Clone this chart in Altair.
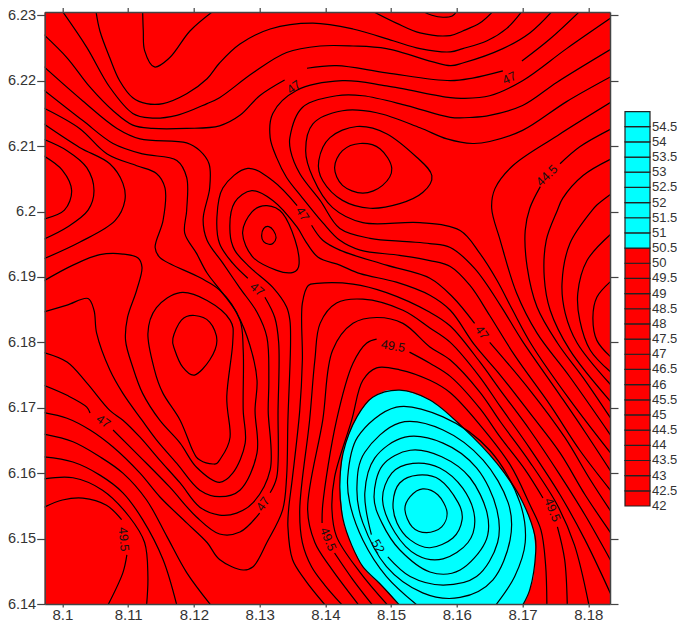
import altair as alt
import pandas as pd

X_TICKS = [8.1, 8.11, 8.12, 8.13, 8.14, 8.15, 8.16, 8.17, 8.18]
Y_TICKS = [6.14, 6.15, 6.16, 6.17, 6.18, 6.19, 6.2, 6.21, 6.22, 6.23]
X_DOMAIN = [8.0973, 8.1833]
Y_DOMAIN = [6.14, 6.2305]

# open contour lines: (x, y)
c_t0 = [(8.1548,6.2306),(8.1562,6.2300),(8.1579,6.2297),(8.1593,6.2299),(8.1600,6.2306)]
c_t2 = [(8.1472,6.2306),(8.1508,6.2288),(8.1544,6.2273),(8.1590,6.2269),(8.1609,6.2276),(8.1635,6.2288),(8.1655,6.2306)]
c_t1 = [(8.1122,6.2306),(8.1123,6.2276),(8.1125,6.2246),(8.1140,6.2221),(8.1163,6.2235),(8.1194,6.2276),(8.1229,6.2306)]
c_a = [(8.1051,6.2306),(8.1057,6.2276),(8.1072,6.2235),(8.1087,6.2200),(8.1107,6.2174),(8.1128,6.2165),(8.1153,6.2165),(8.1189,6.2180),(8.1220,6.2203),(8.1239,6.2227),(8.1270,6.2256),(8.1316,6.2279),(8.1381,6.2288),(8.1442,6.2279),(8.1503,6.2261),(8.1544,6.2249),(8.1590,6.2244),(8.1609,6.2249),(8.1646,6.2261),(8.1676,6.2280),(8.1699,6.2306)]
c_b = [(8.1000,6.2306),(8.1037,6.2251),(8.1072,6.2190),(8.1107,6.2150),(8.1133,6.2143),(8.1174,6.2147),(8.1220,6.2165),(8.1239,6.2174),(8.1290,6.2212),(8.1341,6.2243),(8.1392,6.2253),(8.1442,6.2253),(8.1493,6.2249),(8.1590,6.2223),(8.1609,6.2227),(8.1670,6.2249),(8.1711,6.2273),(8.1745,6.2306)]
c_47a = [(8.0970,6.2272),(8.1007,6.2235),(8.1042,6.2190),(8.1077,6.2154),(8.1107,6.2132),(8.1137,6.2127),(8.1189,6.2127),(8.1239,6.2131),(8.1270,6.2147),(8.1300,6.2177),(8.1338,6.2201)]
c_47b = [(8.1372,6.2219),(8.1417,6.2223),(8.1493,6.2212),(8.1590,6.2200),(8.1624,6.2204),(8.1670,6.2215)]
c_47c = [(8.1699,6.2230),(8.1742,6.2264),(8.1787,6.2306)]
c_465l = [(8.0970,6.2223),(8.1031,6.2169),(8.1083,6.2127),(8.1118,6.2111),(8.1189,6.2105),(8.1209,6.2093),(8.1223,6.2073),(8.1224,6.2036),(8.1214,6.1988),(8.1220,6.1956),(8.1244,6.1921),(8.1270,6.1883),(8.1296,6.1846),(8.1311,6.1808),(8.1314,6.1742),(8.1313,6.1696),(8.1316,6.1605),(8.1290,6.1555),(8.1265,6.1539),(8.1239,6.1536),(8.1209,6.1548),(8.1179,6.1585),(8.1148,6.1620),(8.1118,6.1655),(8.1092,6.1681),(8.1072,6.1696),(8.1037,6.1738),(8.1007,6.1770),(8.0970,6.1785)]
c_46l = [(8.0970,6.2187),(8.1031,6.2139),(8.1077,6.2104),(8.1122,6.2088),(8.1174,6.2078),(8.1189,6.2052),(8.1189,6.2002),(8.1186,6.1967),(8.1204,6.1936),(8.1220,6.1906),(8.1244,6.1875),(8.1265,6.1845),(8.1285,6.1796),(8.1296,6.1742),(8.1293,6.1696),(8.1296,6.1631),(8.1270,6.1574),(8.1239,6.1564),(8.1209,6.1574),(8.1174,6.1615),(8.1143,6.1651),(8.1121,6.1681),(8.1092,6.1722),(8.1072,6.1758),(8.1052,6.1814),(8.1048,6.1849),(8.1039,6.1867),(8.1007,6.1857),(8.0970,6.1846)]
c_455l = [(8.0970,6.2159),(8.1026,6.2127),(8.1068,6.2088),(8.1113,6.2070),(8.1143,6.2058),(8.1156,6.2036),(8.1153,6.1986),(8.1141,6.1945),(8.1148,6.1930),(8.1209,6.1899),(8.1239,6.1880),(8.1270,6.1834),(8.1275,6.1788),(8.1275,6.1696),(8.1278,6.1646),(8.1259,6.1600),(8.1239,6.1586),(8.1204,6.1609),(8.1179,6.1646),(8.1148,6.1681),(8.1122,6.1722),(8.1107,6.1762),(8.1096,6.1803),(8.1099,6.1838),(8.1113,6.1880),(8.1121,6.1915),(8.1115,6.1929),(8.1092,6.1935),(8.1057,6.1934),(8.1016,6.1918),(8.0970,6.1893)]
c_g = [(8.0970,6.2135),(8.1026,6.2098),(8.1072,6.2073),(8.1092,6.2043),(8.1095,6.2017),(8.1080,6.1986),(8.1026,6.1953),(8.0970,6.1927)]
c_h = [(8.0970,6.2111),(8.1007,6.2093),(8.1037,6.2067),(8.1048,6.2032),(8.1039,6.2002),(8.1007,6.1976),(8.0970,6.1957)]
c_i = [(8.0970,6.2086),(8.1000,6.2063),(8.1014,6.2032),(8.1003,6.2002),(8.0970,6.1988)]
c_47d = [(8.1282,6.1898),(8.1259,6.1921),(8.1239,6.1951),(8.1235,6.1991),(8.1244,6.2036),(8.1282,6.2066),(8.1320,6.2047),(8.1357,6.2009)]
c_47e = [(8.1308,6.1869),(8.1323,6.1838),(8.1329,6.1799),(8.1328,6.1696),(8.1326,6.1594),(8.1316,6.1570)]
c_47f = [(8.1300,6.1539),(8.1270,6.1510),(8.1239,6.1507),(8.1204,6.1533),(8.1163,6.1579),(8.1118,6.1625),(8.1077,6.1666)]
c_47g = [(8.1042,6.1692),(8.1037,6.1701),(8.1007,6.1719),(8.0970,6.1735)]
c_47h = [(8.1379,6.1979),(8.1396,6.1956),(8.1422,6.1941),(8.1493,6.1918),(8.1559,6.1898),(8.1594,6.1869),(8.1627,6.1829)]
c_47i = [(8.1650,6.1800),(8.1711,6.1727),(8.1764,6.1655),(8.1803,6.1590),(8.1836,6.1539)]
c_475 = [(8.1836,6.1506),(8.1795,6.1567),(8.1757,6.1631),(8.1711,6.1692),(8.1666,6.1750),(8.1627,6.1796),(8.1590,6.1849),(8.1559,6.1872),(8.1508,6.1892),(8.1453,6.1905),(8.1422,6.1918),(8.1389,6.1930),(8.1369,6.1956),(8.1357,6.1976),(8.1320,6.2017),(8.1288,6.2032),(8.1262,6.2014),(8.1255,6.1967),(8.1262,6.1941),(8.1285,6.1915),(8.1320,6.1884),(8.1341,6.1854),(8.1346,6.1834),(8.1347,6.1799),(8.1343,6.1681),(8.1341,6.1594),(8.1335,6.1544),(8.1311,6.1494),(8.1290,6.1457),(8.1275,6.1452),(8.1239,6.1468),(8.1220,6.1494),(8.1189,6.1524),(8.1148,6.1564),(8.1118,6.1600),(8.1077,6.1640),(8.1042,6.1666),(8.1007,6.1684),(8.0970,6.1693)]
c_455 = [(8.1836,6.2207),(8.1767,6.2168),(8.1700,6.2124),(8.1650,6.2107),(8.1624,6.2104),(8.1585,6.2111),(8.1544,6.2128),(8.1478,6.2151),(8.1426,6.2154),(8.1381,6.2134),(8.1370,6.2093),(8.1381,6.2052),(8.1411,6.2006),(8.1457,6.1983),(8.1544,6.1983),(8.1605,6.1971),(8.1635,6.1936),(8.1661,6.1895),(8.1685,6.1849),(8.1714,6.1796),(8.1772,6.1712),(8.1836,6.1628)]
c_46 = [(8.1836,6.2249),(8.1753,6.2198),(8.1700,6.2162),(8.1650,6.2147),(8.1624,6.2144),(8.1590,6.2144),(8.1524,6.2162),(8.1457,6.2177),(8.1417,6.2177),(8.1365,6.2159),(8.1346,6.2113),(8.1347,6.2093),(8.1361,6.2058),(8.1392,6.2017),(8.1422,6.1974),(8.1468,6.1959),(8.1524,6.1954),(8.1559,6.1951),(8.1590,6.1945),(8.1627,6.1913),(8.1666,6.1857),(8.1699,6.1803),(8.1757,6.1719),(8.1795,6.1663),(8.1836,6.1600)]
c_465 = [(8.1836,6.2297),(8.1767,6.2249),(8.1700,6.2200),(8.1650,6.2177),(8.1609,6.2173),(8.1590,6.2174),(8.1493,6.2192),(8.1426,6.2200),(8.1356,6.2185),(8.1320,6.2150),(8.1316,6.2113),(8.1326,6.2082),(8.1341,6.2052),(8.1365,6.2021),(8.1396,6.1983),(8.1422,6.1956),(8.1453,6.1941),(8.1513,6.1933),(8.1559,6.1925),(8.1590,6.1916),(8.1620,6.1887),(8.1650,6.1841),(8.1688,6.1780),(8.1742,6.1704),(8.1787,6.1635),(8.1836,6.1571)]
c_45 = [(8.1836,6.2168),(8.1753,6.2116),(8.1685,6.2070),(8.1658,6.2035),(8.1653,6.2005),(8.1666,6.1956),(8.1691,6.1875),(8.1722,6.1814),(8.1772,6.1747),(8.1836,6.1655)]
c_445a = [(8.1836,6.2127),(8.1787,6.2099),(8.1757,6.2073)]
c_445b = [(8.1727,6.2038),(8.1711,6.2005),(8.1704,6.1971),(8.1707,6.1915),(8.1722,6.1854),(8.1753,6.1799),(8.1795,6.1742),(8.1836,6.1681)]
c_44 = [(8.1836,6.2081),(8.1792,6.2055),(8.1761,6.2020),(8.1753,6.2002),(8.1736,6.1956),(8.1733,6.1899),(8.1742,6.1849),(8.1772,6.1788),(8.1836,6.1707)]
c_435 = [(8.1836,6.2028),(8.1813,6.2010),(8.1806,6.2002),(8.1772,6.1951),(8.1760,6.1890),(8.1765,6.1844),(8.1783,6.1799),(8.1836,6.1733)]
c_43 = [(8.1836,6.1967),(8.1798,6.1925),(8.1784,6.1875),(8.1787,6.1834),(8.1803,6.1788),(8.1836,6.1753)]
c_425 = [(8.1836,6.1895),(8.1813,6.1869),(8.1807,6.1838),(8.1813,6.1803),(8.1836,6.1776)]
c_48 = [(8.1836,6.1463),(8.1795,6.1536),(8.1757,6.1597),(8.1711,6.1666),(8.1666,6.1727),(8.1635,6.1770),(8.1590,6.1825),(8.1559,6.1846),(8.1493,6.1876),(8.1442,6.1889),(8.1387,6.1890),(8.1374,6.1887),(8.1365,6.1860),(8.1365,6.1773),(8.1361,6.1696),(8.1350,6.1594),(8.1344,6.1544),(8.1343,6.1518),(8.1350,6.1468),(8.1369,6.1437),(8.1400,6.1398)]
c_48l = [(8.0970,6.1660),(8.1016,6.1648),(8.1057,6.1625),(8.1092,6.1600),(8.1128,6.1559),(8.1159,6.1503),(8.1189,6.1448),(8.1226,6.1398)]
c_485 = [(8.1836,6.1411),(8.1795,6.1498),(8.1757,6.1567),(8.1711,6.1638),(8.1666,6.1702),(8.1635,6.1747),(8.1590,6.1800),(8.1559,6.1822),(8.1518,6.1849),(8.1457,6.1866),(8.1417,6.1860),(8.1392,6.1829),(8.1384,6.1773),(8.1376,6.1681),(8.1361,6.1544),(8.1365,6.1494),(8.1379,6.1457),(8.1399,6.1429),(8.1426,6.1398)]
c_485l = [(8.0970,6.1625),(8.1016,6.1617),(8.1057,6.1597),(8.1092,6.1570),(8.1122,6.1529),(8.1153,6.1468),(8.1174,6.1398)]
c_49 = [(8.1801,6.1398),(8.1779,6.1490),(8.1753,6.1551),(8.1711,6.1617),(8.1666,6.1679),(8.1635,6.1724),(8.1590,6.1773),(8.1559,6.1793),(8.1518,6.1829),(8.1478,6.1838),(8.1442,6.1829),(8.1411,6.1788),(8.1396,6.1681),(8.1373,6.1544),(8.1384,6.1494),(8.1407,6.1457),(8.1451,6.1398)]
c_49l = [(8.0970,6.1591),(8.1016,6.1593),(8.1061,6.1574),(8.1102,6.1533),(8.1125,6.1494),(8.1130,6.1442),(8.1128,6.1398)]
c_495a = [(8.1478,6.1805),(8.1463,6.1799),(8.1442,6.1768),(8.1417,6.1681),(8.1396,6.1552),(8.1395,6.1524)]
c_495b = [(8.1414,6.1478),(8.1442,6.1437),(8.1472,6.1398)]
c_495c = [(8.1528,6.1785),(8.1559,6.1768),(8.1590,6.1748),(8.1635,6.1699),(8.1666,6.1655),(8.1704,6.1605),(8.1731,6.1562)]
c_495d = [(8.1753,6.1518),(8.1764,6.1468),(8.1768,6.1398)]
c_495e = [(8.0970,6.1547),(8.1000,6.1559),(8.1031,6.1562),(8.1067,6.1551),(8.1090,6.1529)]
c_495f = [(8.1098,6.1475),(8.1092,6.1448),(8.1069,6.1398)]
c_50 = [(8.1737,6.1398),(8.1735,6.1460),(8.1728,6.1513),(8.1711,6.1552),(8.1681,6.1613),(8.1635,6.1674),(8.1590,6.1723),(8.1559,6.1742),(8.1513,6.1758),(8.1478,6.1761),(8.1457,6.1742),(8.1440,6.1681),(8.1414,6.1594),(8.1410,6.1544),(8.1417,6.1503),(8.1453,6.1448),(8.1495,6.1398)]
c_505 = [(8.1513,6.1398),(8.1483,6.1431),(8.1457,6.1457),(8.1440,6.1490),(8.1427,6.1529),(8.1422,6.1579),(8.1427,6.1631),(8.1448,6.1686),(8.1472,6.1716),(8.1513,6.1727),(8.1559,6.1712),(8.1609,6.1670),(8.1661,6.1615),(8.1696,6.1564),(8.1719,6.1503),(8.1720,6.1480),(8.1711,6.1422),(8.1700,6.1398)]
c_51 = [(8.1540,6.1398),(8.1493,6.1442),(8.1457,6.1498),(8.1437,6.1555),(8.1434,6.1594),(8.1449,6.1655),(8.1508,6.1701),(8.1579,6.1686),(8.1650,6.1635),(8.1696,6.1555),(8.1704,6.1494),(8.1688,6.1442),(8.1659,6.1398)]
c_52 = [(8.1470,6.1506),(8.1460,6.1570),(8.1475,6.1623),(8.1521,6.1655),(8.1579,6.1646),(8.1630,6.1608),(8.1661,6.1544),(8.1662,6.1494),(8.1630,6.1442),(8.1579,6.1429),(8.1529,6.1442),(8.1495,6.1472)]

# closed contour loops
k_45 = [(8.1130,6.1813),(8.1143,6.1853),(8.1179,6.1876),(8.1220,6.1864),(8.1255,6.1834),(8.1259,6.1799),(8.1250,6.1717),(8.1255,6.1655),(8.1239,6.1620),(8.1229,6.1614),(8.1209,6.1620),(8.1198,6.1635),(8.1179,6.1681),(8.1153,6.1722),(8.1140,6.1758)]
k_445 = [(8.1168,6.1806),(8.1181,6.1834),(8.1201,6.1841),(8.1224,6.1831),(8.1235,6.1803),(8.1224,6.1773),(8.1201,6.1750),(8.1183,6.1762),(8.1171,6.1788)]
k_tear = [(8.1274,6.1967),(8.1288,6.1999),(8.1311,6.2009),(8.1335,6.1997),(8.1354,6.1956),(8.1360,6.1920),(8.1351,6.1907),(8.1326,6.1910),(8.1290,6.1930)]
k_ring = [(8.1303,6.1963),(8.1306,6.1974),(8.1314,6.1977),(8.1321,6.1971),(8.1325,6.1960),(8.1320,6.1951),(8.1314,6.1950),(8.1306,6.1954)]
k_top1 = [(8.1414,6.2067),(8.1426,6.2093),(8.1453,6.2104),(8.1483,6.2096),(8.1501,6.2066),(8.1487,6.2040),(8.1457,6.2028),(8.1426,6.2040)]
k_top2 = [(8.1390,6.2078),(8.1407,6.2113),(8.1448,6.2130),(8.1493,6.2119),(8.1539,6.2083),(8.1562,6.2055),(8.1548,6.2029),(8.1513,6.2012),(8.1468,6.2005),(8.1426,6.2017),(8.1396,6.2047)]
k_515 = [(8.1448,6.1579),(8.1460,6.1632),(8.1513,6.1677),(8.1579,6.1666),(8.1640,6.1620),(8.1678,6.1555),(8.1681,6.1498),(8.1655,6.1437),(8.1605,6.1410),(8.1548,6.1417),(8.1493,6.1457),(8.1457,6.1524)]
k_525 = [(8.1474,6.1564),(8.1487,6.1612),(8.1529,6.1635),(8.1577,6.1625),(8.1620,6.1593),(8.1646,6.1539),(8.1643,6.1494),(8.1605,6.1452),(8.1559,6.1449),(8.1513,6.1483),(8.1486,6.1524)]
k_53 = [(8.1487,6.1559),(8.1501,6.1600),(8.1533,6.1615),(8.1574,6.1608),(8.1609,6.1577),(8.1627,6.1533),(8.1617,6.1494),(8.1579,6.1469),(8.1539,6.1475),(8.1506,6.1509)]
k_535 = [(8.1503,6.1555),(8.1513,6.1585),(8.1541,6.1597),(8.1574,6.1590),(8.1602,6.1555),(8.1608,6.1529),(8.1594,6.1501),(8.1559,6.1486),(8.1529,6.1498),(8.1509,6.1524)]
k_54 = [(8.1521,6.1544),(8.1529,6.1564),(8.1548,6.1576),(8.1571,6.1567),(8.1585,6.1541),(8.1577,6.1518),(8.1554,6.1509),(8.1532,6.1518)]

# cyan band (values above 50.5)
band_x = [8.1422,8.1424,8.1427,8.1433,8.1440,8.1448,8.1457,8.1472,8.1483,8.1498,8.1513,8.1536,8.1559,8.1609,8.1661,8.1681,8.1700,8.1711,8.1717,8.1720]
band_hi = [6.1579,6.1605,6.1631,6.1651,6.1669,6.1686,6.1699,6.1716,6.1722,6.1727,6.1727,6.1721,6.1712,6.1670,6.1615,6.1586,6.1556,6.1529,6.1509,6.1480]
band_lo = [6.1579,6.1559,6.1529,6.1509,6.1490,6.1474,6.1457,6.1440,6.1431,6.1416,6.1400,6.1400,6.1400,6.1400,6.1400,6.1400,6.1400,6.1422,6.1445,6.1480]

# contour labels
lab_text = ["47", "47", "47", "47", "47", "47", "47", "44.5", "49.5", "49.5", "49.5", "49.5", "52"]
lab_x = [8.1352, 8.1680, 8.1365, 8.1296, 8.1305, 8.1062, 8.1638, 8.1737, 8.1503, 8.1093, 8.1404, 8.1745, 8.1480]
lab_y = [6.2190, 6.2204, 6.1996, 6.1881, 6.1553, 6.1679, 6.1815, 6.2055, 6.1794, 6.1499, 6.1499, 6.1544, 6.1488]
lab_angle = [325, 335, 58, 40, 305, 35, 55, 315, 10, 85, 68, 68, 60]

# colour bar
bar_levels = [42, 42.5, 43, 43.5, 44, 44.5, 45, 45.5, 46, 46.5, 47, 47.5, 48, 48.5, 49, 49.5, 50, 50.5,
              51, 51.5, 52, 52.5, 53, 53.5, 54, 54.5]
bar_text = ["42", "42.5", "43", "43.5", "44", "44.5", "45", "45.5", "46", "46.5", "47", "47.5", "48", "48.5",
            "49", "49.5", "50", "50.5", "51", "51.5", "52", "52.5", "53", "53.5", "54", "54.5"]

OPEN = dict(t0=c_t0, t2=c_t2, t1=c_t1, a=c_a, b=c_b, c47a=c_47a, c47b=c_47b, c47c=c_47c,
            l465=c_465l, l46=c_46l, l455=c_455l, g=c_g, h=c_h, i=c_i, c47d=c_47d, c47e=c_47e,
            c47f=c_47f, c47g=c_47g, c47h=c_47h, c47i=c_47i, c475=c_475, c455=c_455, c46=c_46,
            c465=c_465, c45=c_45, c445a=c_445a, c445b=c_445b, c44=c_44, c435=c_435, c43=c_43,
            c425=c_425, c48=c_48, l48=c_48l, c485=c_485, l485=c_485l, c49=c_49, l49=c_49l,
            c495a=c_495a, c495b=c_495b, c495c=c_495c, c495d=c_495d, c495e=c_495e, c495f=c_495f,
            c50=c_50, c505=c_505, c51=c_51, c52=c_52)
CLOSED = dict(k45=k_45, k445=k_445, tear=k_tear, ring=k_ring, top1=k_top1, top2=k_top2,
              k515=k_515, k525=k_525, k53=k_53, k535=k_535, k54=k_54)


def table(groups):
    rows = []
    for name, pts in groups.items():
        for i, (x, y) in enumerate(pts):
            rows.append({"id": name, "i": i, "x": x, "y": y})
    return pd.DataFrame(rows)


FONT = "Liberation Sans"
xs = alt.Scale(domain=X_DOMAIN, nice=False, zero=False)
ys = alt.Scale(domain=Y_DOMAIN, nice=False, zero=False)
bs = alt.Scale(domain=[38.77, 58.28], nice=False, zero=False)
AX = dict(title=None, grid=False, tickSize=8, tickColor="#444", tickWidth=1.2, domainColor="#444",
          domainWidth=1.5, labelFont=FONT, labelFontSize=14.5, labelColor="#333", labelPadding=1, zindex=1)
AX_BOTTOM = dict(AX, tickSize=3, labelFontSize=15, labelPadding=0)

domain_df = pd.DataFrame({"x0": [X_DOMAIN[0]], "x1": [X_DOMAIN[1]], "y0": [Y_DOMAIN[0]], "y1": [Y_DOMAIN[1]]})

back = alt.Chart(domain_df).mark_rect(color="#ff0000").encode(
    x=alt.X("x0:Q", scale=xs, axis=alt.Axis(orient="bottom", values=X_TICKS, format=".2~f", **AX_BOTTOM)),
    x2="x1:Q",
    y=alt.Y("y0:Q", scale=ys, axis=alt.Axis(orient="left", values=Y_TICKS, format=".2~f", **AX)),
    y2="y1:Q",
)
frame = alt.Chart(domain_df).mark_rect(opacity=0).encode(
    x=alt.X("x0:Q", scale=xs, axis=alt.Axis(orient="top", values=X_TICKS, labels=False, **AX)),
    x2="x1:Q",
    y=alt.Y("y0:Q", scale=ys, axis=alt.Axis(orient="right", values=Y_TICKS, labels=False, **AX)),
    y2="y1:Q",
)
band = alt.Chart(pd.DataFrame({"x": band_x, "hi": band_hi, "lo": band_lo})).mark_area(
    color="#00ffff", interpolate="monotone", orient="vertical", clip=True
).encode(
    x=alt.X("x:Q", scale=xs, axis=None),
    y=alt.Y("lo:Q", scale=ys, axis=None),
    y2="hi:Q",
)
open_lines = alt.Chart(table(OPEN)).mark_line(
    color="#000000", strokeWidth=1.2, interpolate="catmull-rom", clip=True
).encode(
    x=alt.X("x:Q", scale=xs, axis=None),
    y=alt.Y("y:Q", scale=ys, axis=None),
    detail="id:N",
    order="i:Q",
)
closed_lines = alt.Chart(table(CLOSED)).mark_line(
    color="#000000", strokeWidth=1.2, interpolate="cardinal-closed", tension=0, clip=True
).encode(
    x=alt.X("x:Q", scale=xs, axis=None),
    y=alt.Y("y:Q", scale=ys, axis=None),
    detail="id:N",
    order="i:Q",
)
labels = alt.Chart(pd.DataFrame({"t": lab_text, "x": lab_x, "y": lab_y, "a": lab_angle})).mark_text(
    font=FONT, fontSize=12.5, color="#111", align="center", baseline="middle"
).encode(
    x=alt.X("x:Q", scale=xs, axis=None),
    y=alt.Y("y:Q", scale=ys, axis=None),
    text="t:N",
    angle=alt.Angle("a:Q", scale=None),
)

bar_df = pd.DataFrame({
    "lo": bar_levels,
    "hi": [v + 0.5 for v in bar_levels],
    "fill": ["#00ffff" if v >= 50.5 else "#ff0000" for v in bar_levels],
    "text": bar_text,
})
bar = alt.Chart(bar_df).mark_rect(stroke="#222", strokeWidth=1.2).encode(
    x=alt.value(580.3),
    x2=alt.value(605.3),
    y=alt.Y("lo:Q", scale=bs, axis=None),
    y2="hi:Q",
    fill=alt.Fill("fill:N", scale=None),
)
bar_labels = alt.Chart(bar_df).mark_text(
    font=FONT, fontSize=13, color="#333", align="left", baseline="middle"
).encode(
    x=alt.value(607.3),
    y=alt.Y("lo:Q", scale=bs, axis=None),
    text="text:N",
)

chart = alt.layer(back, band, open_lines, closed_lines, labels, frame, bar, bar_labels).resolve_axis(
    x="independent", y="independent"
).resolve_scale(y="independent").properties(
    width=565.3, height=592,
    autosize=alt.AutoSizeParams(type="none"),
    padding={"left": 36.7, "top": 4, "right": 67, "bottom": 18},
).configure_view(stroke=None)
chart.save("out.html", embed_options={"renderer": "svg", "actions": False})
